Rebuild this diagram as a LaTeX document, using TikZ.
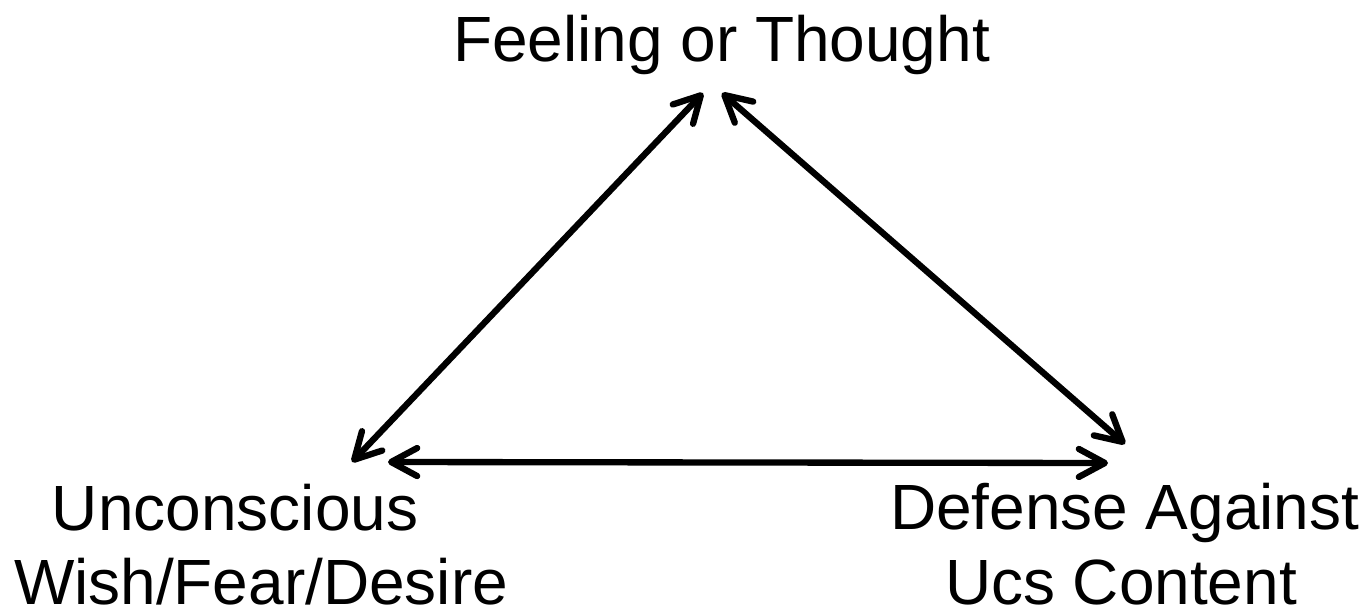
\documentclass[tikz,border=0pt]{standalone}
\usepackage{fontspec}
\setmainfont{Liberation Sans}
\usetikzlibrary{arrows.meta}
\begin{document}
\begin{tikzpicture}[
  lbl/.style={anchor=base west, inner sep=0pt, outer sep=0pt, font=\fontsize{36.4}{44}\selectfont},
  tip/.tip={Straight Barb[round,length=5.2mm,width=5.6mm]},
  link/.style={line width=3.6pt, tip-tip}
]
\useasboundingbox[fill=white] (0,0) rectangle (27.4,12.26);
% labels
\node[lbl] (ft)  at (9.06,11.02) {Feeling or Thought};
\node[lbl] (uw1) at (1.04,1.66) {Unconscious};
\node[lbl] (uw2) at (0.28,0.17) {Wish/Fear/Desire};
\node[lbl] (da1) at (17.80,1.68) {Defense Against};
\node[lbl] (da2) at (18.90,0.18) {Ucs Content};
% arrow end points
\coordinate (ftL) at (14.06,10.40);
\coordinate (ftR) at (14.44,10.40);
\coordinate (uwT) at (7.04,3.02);
\coordinate (uwR) at (7.76,3.02);
\coordinate (daT) at (22.50,3.38);
\coordinate (daL) at (22.16,3.00);
% connectors
\draw[link] (uwT) -- (ftL);
\draw[link] (ftR) -- (daT);
\draw[link] (uwR) -- (daL);
\end{tikzpicture}
\end{document}
